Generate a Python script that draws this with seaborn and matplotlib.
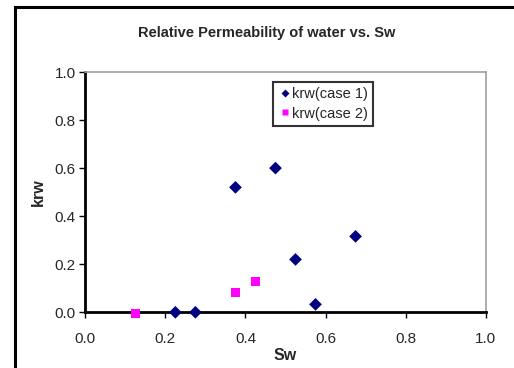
import matplotlib
matplotlib.use("Agg")
import matplotlib.pyplot as plt
import seaborn as sns
import pandas as pd
from matplotlib.patches import Rectangle

sw_case1 = [0.225, 0.275, 0.375, 0.475, 0.525, 0.575, 0.675]
krw_case1 = [0.0, 0.0, 0.52, 0.60, 0.22, 0.033, 0.316]
sw_case2 = [0.125, 0.375, 0.425]
krw_case2 = [-0.005, 0.083, 0.129]
series_names = ["krw(case 1)", "krw(case 2)"]
ticks = [0.0, 0.2, 0.4, 0.6, 0.8, 1.0]

df = pd.DataFrame({
    "Sw": sw_case1 + sw_case2,
    "krw": krw_case1 + krw_case2,
    "series": [series_names[0]] * len(sw_case1) + [series_names[1]] * len(sw_case2),
})

sns.set_style("white")
plt.rcParams["font.family"] = ["Liberation Sans", "DejaVu Sans"]

fig = plt.figure(figsize=(5.14, 3.68), dpi=100)
ax = fig.add_axes([85.3 / 514, 1 - 312.3 / 368, 400.4 / 514, 240.3 / 368])

sns.scatterplot(
    data=df, x="Sw", y="krw", hue="series", style="series",
    palette={series_names[0]: "#000080", series_names[1]: "#FF00FF"},
    markers={series_names[0]: "D", series_names[1]: "s"},
    s=42, edgecolor="none", ax=ax, clip_on=False, zorder=5,
)
ax.set_xlim(0, 1)
ax.set_ylim(0, 1)
ax.set_xticks(ticks)
ax.set_yticks(ticks)
ax.set_xticklabels([f"{t:.1f}" for t in ticks], fontsize=11)
ax.set_yticklabels([f"{t:.1f}" for t in ticks], fontsize=11)
ax.tick_params(direction="out", length=4, width=1, color="black",
               bottom=True, left=True)
ax.tick_params(axis="x", pad=10)
ax.tick_params(axis="y", pad=3)
for side in ["left", "bottom"]:
    ax.spines[side].set_color("black")
    ax.spines[side].set_linewidth(2)
for side in ["top", "right"]:
    ax.spines[side].set_color("#a0a0a0")
    ax.spines[side].set_linewidth(1.2)
ax.set_xlabel("Sw", fontsize=11.5, fontweight="bold", labelpad=1.5)
ax.set_ylabel("krw", fontsize=11.5, fontweight="bold", labelpad=6)

leg = ax.legend(loc="upper left", bbox_to_anchor=(0.468, 0.96), frameon=True,
                fancybox=False, edgecolor="black", fontsize=10.5,
                handletextpad=0.0, borderpad=0.35, labelspacing=0.4,
                handlelength=1.0, borderaxespad=0, markerscale=0.7)
leg.get_frame().set_linewidth(1.5)

fig.text(267 / 514, 1 - 33 / 368, "Relative Permeability of water vs. Sw",
         ha="center", va="center", fontsize=10.5, fontweight="bold")

fig.patches.append(Rectangle((15 / 514, -0.05), 1.1, 1 - 7 / 368 + 0.05,
                             transform=fig.transFigure, fill=False,
                             edgecolor="black", linewidth=2.2))

fig.savefig("out.png", dpi=100)
